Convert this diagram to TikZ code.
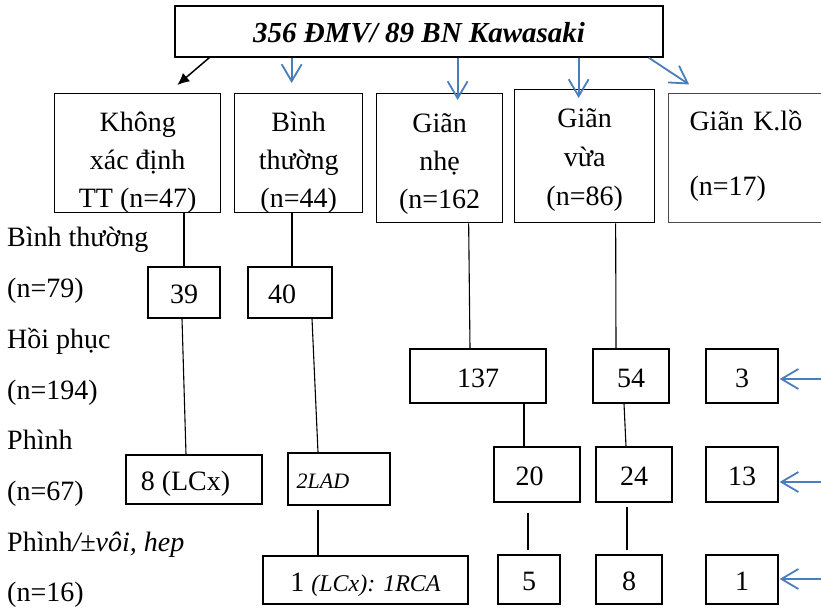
\documentclass[tikz,border=0pt]{standalone}
\usepackage{fontspec}
\setmainfont{Liberation Serif}
\usetikzlibrary{calc,positioning,arrows.meta}
\definecolor{xanh}{RGB}{74,126,187}
\tikzset{
	khoi/.style={
		rectangle,
		draw=black, line width=1.3pt,
		inner sep=0pt,
		text height=28pt, text depth=6pt,
		align=center,
		font=\fontsize{28}{38}\selectfont},
	nhan/.style={anchor=base west, inner sep=0pt,
		font=\fontsize{28}{34}\selectfont},
	noi/.style={draw, line width=1.1pt},
	muiten/.style={draw=xanh, line width=1.8pt,
		-{Straight Barb[length=17pt,width=20pt]}, shorten >=1pt},
	denmui/.style={draw, line width=1.5pt, -{Latex[length=12pt,width=11pt]}},
}

\begin{document}
\begin{tikzpicture}[x=1pt, y=-1pt]
\useasboundingbox (0,0) rectangle (821,609);

% tieu de
\node[khoi, minimum width=488pt, minimum height=51pt,
	font=\fontsize{29}{34}\selectfont\bfseries\itshape] (tieude) at (419,31.5) {356 ĐMV/ 89 BN Kawasaki};

% hang 1
\node[khoi, anchor=north west, minimum width=166pt, text height=114pt, text depth=5pt] (kxd) at (54,93) {Không\\xác định\\TT (n=47)};
\node[khoi, anchor=north west, minimum width=128pt, text height=114pt, text depth=5pt] (bt) at (234,93) {Bình\\thường\\(n=44)};
\node[khoi, anchor=north west, minimum width=126pt, text height=115pt, text depth=14pt] (gn) at (376,93) {Giãn\\nhẹ\\(n=162};
\node[khoi, anchor=north west, minimum width=140pt, text height=116pt, text depth=17pt] (gv) at (514,89) {Giãn\\[1pt]vừa\\[1pt](n=86)};
\node[khoi, draw=black!70, line width=1pt, anchor=north west, align=left, text width=140pt,
	inner xsep=21pt, text height=37pt, text depth=92pt] (gkl) at (668,93) {Giãn~K.lồ\\[27pt](n=17)};

% nhan ben trai
\node[nhan] (lbt) at (7,247) {Bình thường};
\node[nhan] (lbtn) at (7,298) {(n=79)};
\node[nhan] (lhp) at (7,348) {Hồi phục};
\node[nhan] (lhpn) at (7,399) {(n=194)};
\node[nhan] (lph) at (7,449) {Phình};
\node[nhan] (lphn) at (7,500) {(n=67)};
\node[nhan] (lpv) at (7,551) {Phình\textit{/±vôi, hep}};
\node[nhan] (lpvn) at (7,601) {(n=16)};

% hang 2
\node[khoi, minimum width=72pt, minimum height=51pt] (b39) at (184,292.5) {39};
\node[khoi, minimum width=84pt, minimum height=51pt] (b40) at (290,292.5) {40\hspace*{16pt}};
\node[khoi, minimum width=136pt, minimum height=54pt] (b137) at (478,376) {137};
\node[khoi, minimum width=76pt, minimum height=54pt] (b54) at (631,376) {54};
\node[khoi, minimum width=72pt, minimum height=54pt] (b3) at (742,376) {3};

% hang 3
\node[khoi, minimum width=136pt, minimum height=49pt] (bLCx) at (194,479.5) {8 (LCx)\hspace*{17pt}};
\node[khoi, minimum width=102pt, minimum height=52pt, text height=24pt, text depth=5pt] (b2LAD) at (339,479)
	{\fontsize{22}{26}\selectfont\itshape 2LAD\hspace*{32pt}};
\node[khoi, minimum width=86pt, minimum height=55pt] (b20) at (537,474.5) {20\hspace*{15pt}};
\node[khoi, minimum width=76pt, minimum height=55pt] (b24) at (634,474.5) {24};
\node[khoi, minimum width=72pt, minimum height=55pt] (b13) at (742,474.5) {13};

% hang 4
\node[khoi, minimum width=205pt, minimum height=48pt] (bRCA) at (365.5,580)
	{1 {\fontsize{24}{28}\selectfont\itshape (LCx): 1RCA}};
\node[khoi, minimum width=62pt, minimum height=49pt] (b5) at (529,579.5) {5};
\node[khoi, minimum width=66pt, minimum height=49pt] (b8) at (629,579.5) {8};
\node[khoi, minimum width=72pt, minimum height=49pt] (b1) at (742,579.5) {1};

% mui ten tu tieu de
\coordinate (m2) at ($(bt.north)+(-7,-9)$);
\coordinate (m3) at ($(gn.north)+(18,8)$);
\coordinate (m4) at ($(gv.north)+(-6,10)$);
\draw[denmui] ($(tieude.south west)+(35,0)$) -- ($(kxd.north east)+(-44,-8)$);
\draw[muiten] (m2 |- tieude.south) -- (m2);
\draw[muiten] (m3 |- tieude.south) -- (m3);
\draw[muiten] (m4 |- tieude.south) -- (m4);
\draw[muiten] ($(tieude.south east)+(-15,0)$) -- ($(gkl.north west)+(22,-8)$);

% mui ten ben phai
\coordinate (p3) at (821,379);
\coordinate (p13) at (821,482);
\coordinate (p1) at (821,579);
\draw[muiten] (p3) -- (b3.east |- p3);
\draw[muiten] (p13) -- (b13.east |- p13);
\draw[muiten] (p1) -- (b1.east |- p1);

% duong noi
\coordinate (n40) at ($(b40.north)+(2,0)$);
\draw[noi] (b39.north |- kxd.south) -- (b39.north);
\draw[noi] (n40 |- bt.south) -- (n40);
\draw[noi] ($(b39.south)+(-2,0)$) -- ($(bLCx.north)+(-8,0)$);
\draw[noi] ($(b40.south)+(22,0)$) -- ($(b2LAD.north)+(-21,0)$);
\draw[noi] ($(b2LAD.south)+(-21,4)$) -- ($(bRCA.north)+(-47.5,0)$);
\draw[noi] ($(gn.south)+(29,0)$) -- ($(b137.north)+(-8,0)$);
\draw[noi] ($(gv.south)+(31,0)$) -- ($(b54.north)+(-15,0)$);
\draw[noi] ($(b137.south)+(46,0)$) -- ($(b20.north)+(-13,0)$);
\draw[noi] ($(b54.south)+(-7,0)$) -- ($(b24.north)+(-8,0)$);
\draw[noi] ($(b20.south)+(-9,10)$) -- ($(b5.north)+(-1,-4)$);
\draw[noi] ($(b24.south)+(-7,4)$) -- ($(b8.north)+(-2,-4)$);
\end{tikzpicture}
\end{document}
